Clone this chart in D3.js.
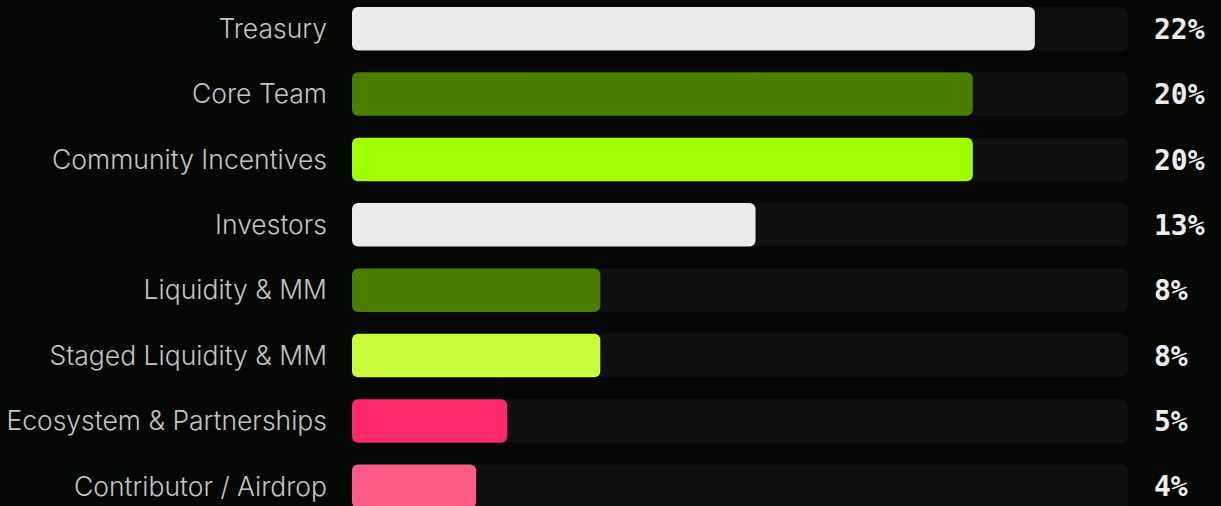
<!DOCTYPE html>
<html>
<head>
<meta charset="utf-8">
<script src="https://cdn.jsdelivr.net/npm/d3@7"></script>
<style>
  html, body { margin: 0; padding: 0; background: #050705; }
  svg { display: block; }
  .label { font-family: Inter, sans-serif; font-weight: 300; font-size: 26.5px; fill: #c4c4c4; }
  .value { font-family: "DejaVu Sans Mono", monospace; font-weight: bold; font-size: 28px; fill: #ececec; }
</style>
</head>
<body>
<div id="chart"></div>
<script>
// Token allocation data
const categories = ["Treasury", "Core Team", "Community Incentives", "Investors",
    "Liquidity & MM", "Staged Liquidity & MM", "Ecosystem & Partnerships", "Contributor / Airdrop"];
const values = [22, 20, 20, 13, 8, 8, 5, 4];
const colors = ["#ebebeb", "#4b7d00", "#a0ff00", "#ebebeb", "#4b7d00", "#c8ff3c", "#ff2a6a", "#ff5c88"];
const maxValue = 25;

const width = 1221, height = 506;
const svg = d3.select("#chart").append("svg")
    .attr("width", width)
    .attr("height", height);

const x = d3.scaleLinear().domain([0, maxValue]).range([352, 1128]);
const y = d3.scaleBand().domain(categories).range([7, 508]).paddingInner(0.335).paddingOuter(0);

const rows = svg.selectAll(".row")
    .data(categories.map((c, i) => ({name: c, value: values[i], color: colors[i]})))
    .join("g")
    .attr("class", "row")
    .attr("transform", d => `translate(0,${y(d.name)})`);

// background track
rows.append("rect")
    .attr("x", x(0))
    .attr("width", x(maxValue) - x(0))
    .attr("height", y.bandwidth())
    .attr("rx", 6)
    .attr("fill", "#0e0f0e");

rows.append("rect")
    .attr("x", x(0))
    .attr("width", d => x(d.value) - x(0))
    .attr("height", y.bandwidth())
    .attr("rx", 6)
    .attr("fill", d => d.color);

rows.append("text")
    .attr("class", "label")
    .attr("x", 327)
    .attr("y", y.bandwidth() / 2)
    .attr("dy", "0.35em")
    .attr("text-anchor", "end")
    .text(d => d.name);

rows.append("text")
    .attr("class", "value")
    .attr("x", 1154)
    .attr("y", y.bandwidth() / 2)
    .attr("dy", "0.36em")
    .text(d => d.value + "%");
</script>
</body>
</html>
